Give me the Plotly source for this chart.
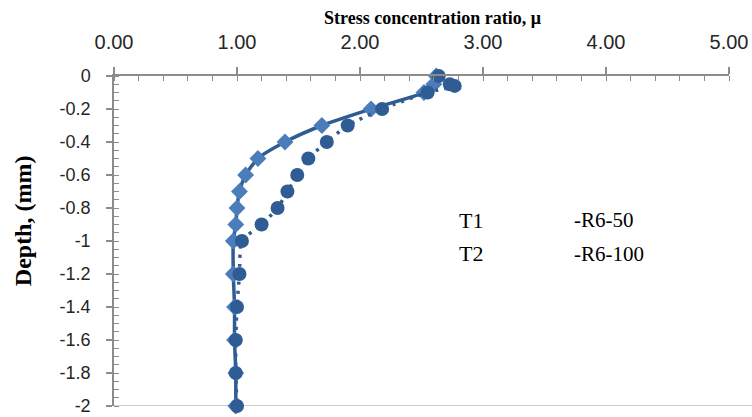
import plotly.graph_objects as go

# T1 (R6-50): diamonds, solid line
t1_depth = [0, -0.05, -0.1, -0.2, -0.3, -0.4, -0.5, -0.6, -0.7, -0.8, -0.9, -1.0, -1.2, -1.4, -1.6, -1.8, -2.0]
t1_ratio = [2.62, 2.60, 2.52, 2.09, 1.69, 1.39, 1.17, 1.07, 1.02, 1.00, 0.99, 0.97, 0.97, 0.98, 0.98, 0.99, 0.99]

# T2 (R6-100): circles, dotted line
t2_depth = [0, -0.05, -0.06, -0.1, -0.2, -0.3, -0.4, -0.5, -0.6, -0.7, -0.8, -0.9, -1.0, -1.2, -1.4, -1.6, -1.8, -2.0]
t2_ratio = [2.64, 2.73, 2.77, 2.55, 2.18, 1.90, 1.73, 1.58, 1.49, 1.41, 1.33, 1.20, 1.04, 1.02, 1.00, 0.99, 0.99, 1.00]

x_ticks = [0, 1, 2, 3, 4, 5]
y_ticks = [0, -0.2, -0.4, -0.6, -0.8, -1, -1.2, -1.4, -1.6, -1.8, -2]
y_tick_text = ["0", "-0.2", "-0.4", "-0.6", "-0.8", "-1", "-1.2", "-1.4", "-1.6", "-1.8", "-2"]

legend_labels = [("T1", "-R6-50"), ("T2", "-R6-100")]

dark = "#2F5C92"
light = "#4A7DBA"
axis_col = "#8C8C8C"

fig = go.Figure()
fig.add_trace(go.Scatter(
    x=t1_ratio, y=t1_depth, mode="lines+markers",
    line=dict(color=dark, width=3.5, shape="spline", smoothing=0.6),
    marker=dict(symbol="diamond", size=13, color=light),
    name="T1", showlegend=False, cliponaxis=False,
))
fig.add_trace(go.Scatter(
    x=t2_ratio, y=t2_depth, mode="lines+markers",
    line=dict(color=dark, width=3.5, dash="3px,6px", shape="spline", smoothing=0.6),
    marker=dict(symbol="circle", size=14, color=dark),
    name="T2", showlegend=False, cliponaxis=False,
))

fig.update_layout(
    width=752, height=417,
    margin=dict(l=113.5, r=23, t=76, b=11),
    paper_bgcolor="white", plot_bgcolor="white",
    xaxis=dict(
        side="top", range=[0, 5], tickvals=x_ticks, tickformat=".2f",
        showgrid=False, zeroline=False, showline=True, linecolor=axis_col, linewidth=1.5,
        ticks="outside", ticklen=7, tickcolor=axis_col, tickwidth=1.5,
        ticklabelstandoff=10, ticklabeloverflow="allow", automargin=False,
        minor=dict(ticks="inside", dtick=0.2, ticklen=5, tickcolor=axis_col, tickwidth=1),
        tickfont=dict(family="Liberation Sans", size=20, color="#262626"),
        title=None,
    ),
    yaxis=dict(
        range=[-2, 0], tickvals=y_ticks, ticktext=y_tick_text,
        showgrid=False, zeroline=False, showline=True, linecolor=axis_col, linewidth=1.5,
        ticks="outside", ticklen=6, tickcolor=axis_col, tickwidth=1.5,
        ticklabelstandoff=12, ticklabeloverflow="allow", automargin=False,
        minor=dict(ticks="inside", dtick=0.05, ticklen=5, tickcolor=axis_col, tickwidth=1),
        tickfont=dict(family="Liberation Sans", size=18, color="#262626"),
        title=None,
    ),
    shapes=[dict(type="line", xref="paper", yref="y", x0=-0.008, x1=1.04, y0=-2, y1=-2,
                 line=dict(color="#BFBFBF", width=1.5), layer="below")],
)

annotations = [
    dict(text="<b>Stress concentration ratio, μ</b>", xref="paper", yref="paper",
         x=0.518, y=1, yshift=58, xanchor="center", yanchor="middle", showarrow=False,
         font=dict(family="Liberation Serif", size=18, color="black")),
    dict(text="<b>Depth, (mm)</b>", xref="paper", yref="paper",
         x=0, xshift=-91, y=0.56, xanchor="center", yanchor="middle", textangle=-90,
         showarrow=False, font=dict(family="Liberation Serif", size=24, color="black")),
]
legend_y = [-0.873, -1.078]
for (lab, sub), ly in zip(legend_labels, legend_y):
    annotations.append(dict(text=lab, x=2.785, y=ly, xref="x", yref="y", xanchor="left",
                            yanchor="middle", showarrow=False,
                            font=dict(family="Liberation Serif", size=22, color="black")))
    annotations.append(dict(text=sub, x=3.72, y=ly, xref="x", yref="y", xanchor="left",
                            yanchor="middle", showarrow=False,
                            font=dict(family="Liberation Serif", size=21, color="black")))
fig.update_layout(annotations=annotations)

fig.write_html("out.html")
